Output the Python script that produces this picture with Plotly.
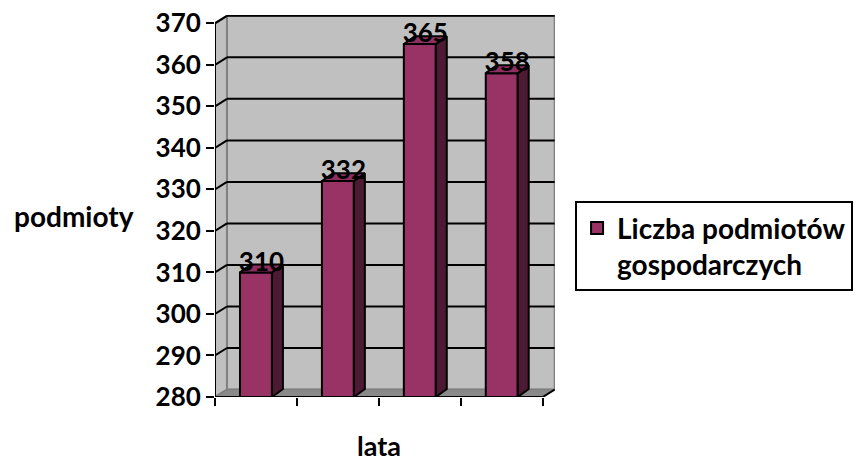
import plotly.graph_objects as go

# Data
years = ["", "", "", ""]
counts = [310, 332, 365, 358]
series_name = "Liczba podmiotów<br>gospodarczych"
y_ticks = [280, 290, 300, 310, 320, 330, 340, 350, 360, 370]
y_title = "podmioty"
x_title = "lata"

# Styling
FRONT = "#993366"
SIDE = "#4d1a33"
TOP = "#8f2f60"
WALL = "#c0c0c0"
FLOOR = "#8a8a8a"
EDGE = "#808080"
FONT = "Lato"

Y_MIN, Y_MAX = y_ticks[0], y_ticks[-1]
n = len(counts)
DX, DY = 0.146, 1.8          # wall depth offset (x units, y units)
BDX, BDY = 0.134, 1.9        # bar depth offset
BW = 0.39                    # bar front width

fig = go.Figure()
shapes = []


def path_of(xs, ys):
    return "M " + " L ".join(f"{x},{y}" for x, y in zip(xs, ys)) + " Z"


def wall(xs, ys, fill, line_color, lw=2):
    shapes.append(dict(type="path", xref="x", yref="y", path=path_of(xs, ys),
                       fillcolor=fill, line=dict(color=line_color, width=lw), layer="below"))


def rule(x0, y0, x1, y1, color="black", lw=2):
    shapes.append(dict(type="line", xref="x", yref="y", x0=x0, y0=y0, x1=x1, y1=y1,
                       line=dict(color=color, width=lw), layer="below"))


# Back wall, side wall, floor
wall([DX, n + DX, n + DX, DX], [Y_MIN + DY, Y_MIN + DY, Y_MAX + DY, Y_MAX + DY], WALL, EDGE)
wall([0, DX, DX, 0], [Y_MIN, Y_MIN + DY, Y_MAX + DY, Y_MAX], WALL, EDGE)
wall([0, n, n + DX, DX], [Y_MIN, Y_MIN, Y_MIN + DY, Y_MIN + DY], FLOOR, EDGE, 1.5)

# Gridlines across the side and back walls
for v in y_ticks[1:]:
    rule(0, v, DX, v + DY)
    rule(DX, v + DY, n + DX, v + DY)

# Front axis lines
rule(0, Y_MIN, 0, Y_MAX)
rule(0, Y_MIN, n, Y_MIN)
rule(n, Y_MIN, n + DX, Y_MIN + DY)

# Columns: front faces
fig.add_trace(go.Bar(
    x=[i + 0.5 for i in range(n)], y=[v - Y_MIN for v in counts], base=Y_MIN,
    width=BW, name=series_name, showlegend=False,
    marker=dict(color=FRONT, line=dict(color="black", width=2)),
    hoverinfo="skip"))

# Columns: side and top faces
for i, v in enumerate(counts):
    x0 = i + 0.5 - BW / 2
    x1 = i + 0.5 + BW / 2
    for xs, ys, col in (
        ([x1, x1 + BDX, x1 + BDX, x1], [Y_MIN, Y_MIN + BDY, v + BDY, v], SIDE),
        ([x0, x1, x1 + BDX, x0 + BDX], [v, v, v + BDY, v + BDY], TOP),
    ):
        fig.add_trace(go.Scatter(
            x=xs + [xs[0]], y=ys + [ys[0]], mode="lines", fill="toself",
            fillcolor=col, line=dict(color="black", width=2),
            hoverinfo="skip", showlegend=False))

# Value labels
fig.add_trace(go.Scatter(
    x=[i + 0.5 + BDX / 2 for i in range(n)], y=[v + 2.0 for v in counts],
    mode="text", text=[str(v) for v in counts], textposition="middle center",
    textfont=dict(family=FONT, size=26, color="black", weight="bold"),
    hoverinfo="skip", showlegend=False))

# Legend key for the series (square swatch)
fig.add_trace(go.Scatter(
    x=[None], y=[None], mode="markers", name=series_name,
    marker=dict(symbol="square", size=19, color=FRONT, line=dict(color="black", width=2)),
    hoverinfo="skip", showlegend=True))

fig.update_layout(
    width=856, height=461,
    margin=dict(l=215, r=301, t=15, b=64, autoexpand=False),
    paper_bgcolor="white", plot_bgcolor="white",
    font=dict(family=FONT, color="black"),
    showlegend=True,
    shapes=shapes,
    legend=dict(
        x=1.059, y=0.512, xanchor="left", yanchor="top", valign="top",
        bordercolor="black", borderwidth=2, bgcolor="white",
        font=dict(family=FONT, size=28, color="black", weight="bold"),
        itemsizing="constant", itemwidth=30, tracegroupgap=0),
    xaxis=dict(
        range=[0, n + 0.15], tickvals=list(range(n + 1)), ticktext=[""] * (n + 1),
        ticks="outside", ticklen=8, tickwidth=2, tickcolor="black",
        showgrid=False, zeroline=False, showline=False, fixedrange=True),
    yaxis=dict(
        range=[Y_MIN, Y_MAX + 2.0], tickvals=y_ticks, ticktext=[str(t) for t in y_ticks],
        ticks="outside", ticklen=8, tickwidth=2, tickcolor="black",
        tickfont=dict(family=FONT, size=26, color="black", weight="bold"),
        showgrid=False, zeroline=False, showline=False, fixedrange=True),
    annotations=[
        dict(text=y_title, xref="paper", yref="paper", x=-0.415, y=0.475,
             xanchor="center", yanchor="middle", showarrow=False,
             font=dict(family=FONT, size=28, color="black", weight="bold")),
        dict(text=x_title, xref="paper", yref="paper", x=0.482, y=-0.128,
             xanchor="center", yanchor="middle", showarrow=False,
             font=dict(family=FONT, size=27, color="black", weight="bold")),
    ],
)

fig.write_html("out.html")
